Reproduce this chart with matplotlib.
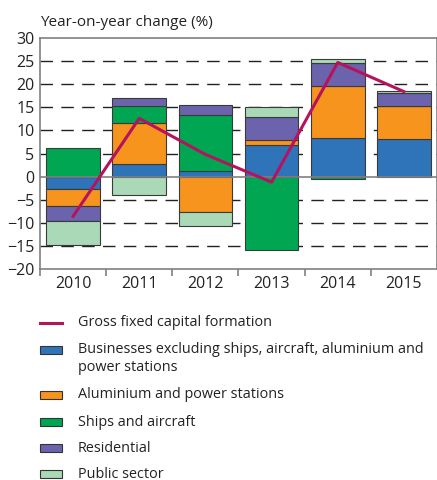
import matplotlib
matplotlib.use("Agg")
import matplotlib.pyplot as plt
import matplotlib.patches as patches
from matplotlib.lines import Line2D
import numpy as np

plt.rcParams['font.family'] = ['Open Sans', 'DejaVu Sans']

# data
years = ["2010", "2011", "2012", "2013", "2014", "2015"]
business = [-2.7, 2.8, 1.3, 6.8, 8.3, 8.1]
aluminium = [-3.7, 8.9, -7.7, 1.1, 11.4, 7.2]
ships = [6.1, 3.6, 12.1, -15.8, -0.6, 0.0]
residential = [-3.2, 1.7, 2.1, 4.9, 4.8, 2.9]
public = [-5.3, -4.0, -2.9, 2.2, 0.9, 0.3]
gfcf = [-8.6, 12.6, 4.8, -1.2, 24.7, 18.4]

series = [
    ("Businesses excluding ships, aircraft, aluminium and\npower stations", business, "#2f74b8"),
    ("Aluminium and power stations", aluminium, "#f7941d"),
    ("Ships and aircraft", ships, "#00a651"),
    ("Residential", residential, "#6c63ad"),
    ("Public sector", public, "#aad9b8"),
]
line_color = "#b5135e"
txt = "#222222"

fig = plt.figure(figsize=(4.37, 4.8), dpi=100)
ax = fig.add_axes([40 / 437, 1 - 269 / 480, 397 / 437, 231 / 480])

x = np.arange(len(years))
pos_base = np.zeros(len(years))
neg_base = np.zeros(len(years))
for name, vals, col in series:
    vals = np.array(vals)
    base = np.where(vals >= 0, pos_base, neg_base)
    ax.bar(x, vals, width=0.81, bottom=base, color=col, edgecolor="#3a3a3a",
           linewidth=0.8, zorder=3)
    pos_base += np.where(vals >= 0, vals, 0)
    neg_base += np.where(vals < 0, vals, 0)

ax.plot(x, gfcf, color=line_color, lw=2.2, zorder=5)

# grid lines
for yv in [25, 20, 15, 10, 5, -5, -10, -15]:
    ax.axhline(yv, color=txt, lw=1.0, dashes=(9, 6), zorder=1)
ax.axhline(0, color="#808080", lw=1.2, zorder=4)

ax.set_xlim(-0.5, 5.5)
ax.set_ylim(-20, 30)
ax.set_yticks(range(-20, 31, 5))
ax.set_xticks(x)
ax.set_xticklabels(years)
ax.set_xticks(np.arange(-0.5, 5.0, 1.0), minor=True)
ax.tick_params(axis="x", which="major", length=0, pad=5, labelsize=11.5, colors=txt)
ax.tick_params(axis="x", which="minor", length=5, width=1.2, color="#808080")
ax.tick_params(axis="y", length=0, pad=4, labelsize=11.5, colors=txt)
for s in ax.spines.values():
    s.set_color("#808080")
    s.set_linewidth(1.2)

fig.text(40 / 437, 1 - 23 / 480, "Year-on-year change (%)", fontsize=11,
         color=txt, va="center", ha="left")

# legend
fs = 10.4
rows = [323, 350, 395, 422, 448, 474]
fig.add_artist(Line2D([40 / 437, 62 / 437], [1 - rows[0] / 480] * 2,
                      color=line_color, lw=2.2))
fig.text(78 / 437, 1 - rows[0] / 480, "Gross fixed capital formation",
         fontsize=fs, color=txt, va="center")
for (name, vals, col), r in zip(series, rows[1:]):
    fig.add_artist(patches.Rectangle((40 / 437, 1 - (r + 4) / 480), 22 / 437, 8 / 480,
                                     facecolor=col, edgecolor="#333333", lw=0.8))
    if "\n" in name:
        fig.text(78 / 437, 1 - (r - 8) / 480, name, fontsize=fs, color=txt,
                 va="top", linespacing=1.3)
    else:
        fig.text(78 / 437, 1 - r / 480, name, fontsize=fs, color=txt, va="center")

plt.savefig("out.png", dpi=100)
